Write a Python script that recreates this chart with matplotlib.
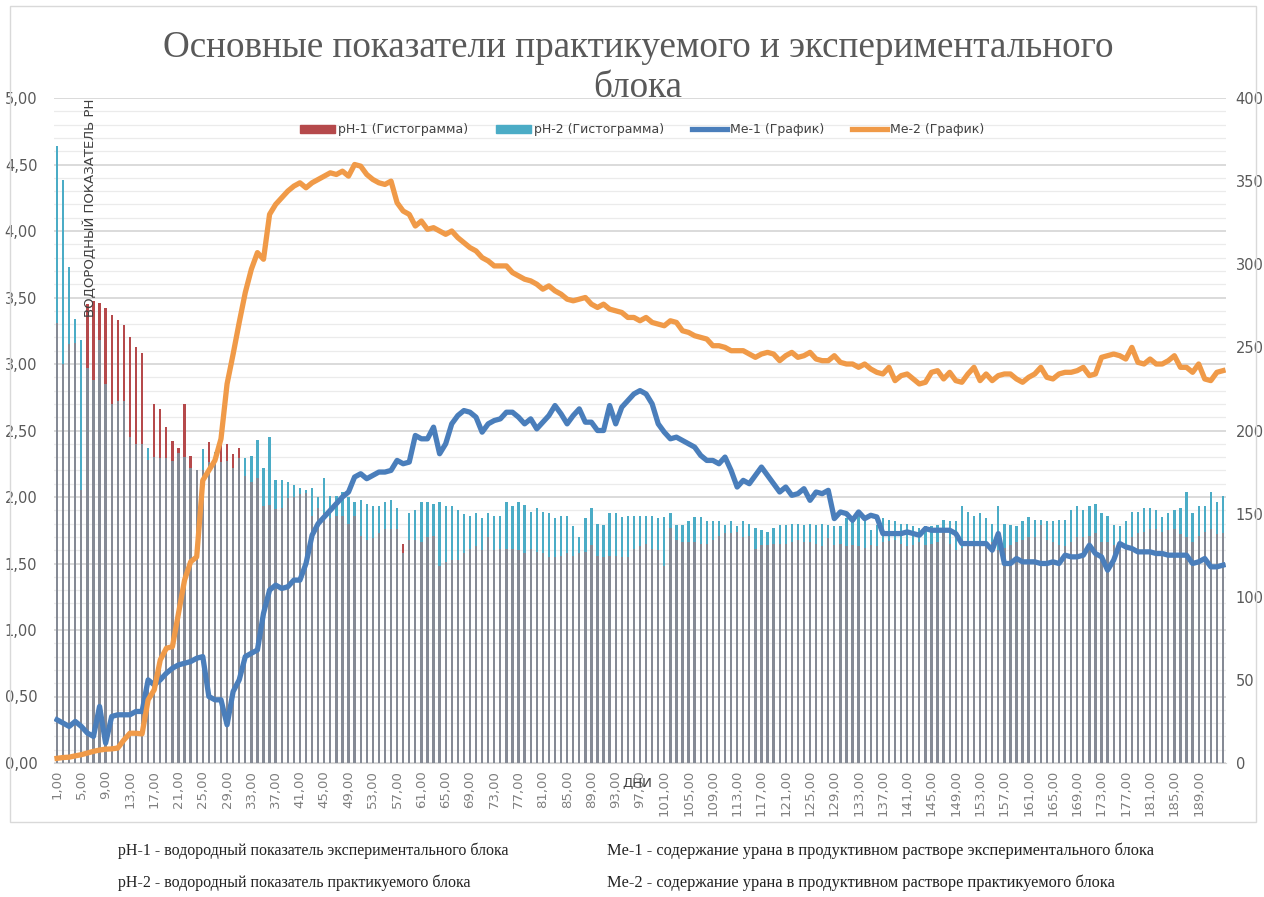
import matplotlib.pyplot as plt
import numpy as np
from matplotlib.ticker import MultipleLocator, FuncFormatter
from matplotlib.patches import Rectangle, Patch
from matplotlib.lines import Line2D

# days 1..193
days = np.arange(1, 194)

# pH-1, experimental block (left axis)
ph1 = [3.31, 3.00, 3.15, 3.16, 2.05, 3.45, 3.47, 3.46, 3.42, 3.37,
       3.33, 3.29, 3.20, 3.13, 3.08, 2.28, 2.70, 2.66, 2.53, 2.42,
       2.37, 2.70, 2.31, 2.20, 2.20, 2.41, 2.30, 2.43, 2.40, 2.32,
       2.37, 2.16, 2.11, 2.14, 1.93, 1.94, 1.91, 1.92, 1.99, 2.00,
       2.02, 2.03, 1.86, 1.92, 1.88, 1.84, 1.86, 1.86, 1.80, 1.86,
       1.71, 1.68, 1.69, 1.73, 1.76, 1.76, 1.76, 1.65, 1.68, 1.68,
       1.66, 1.70, 1.71, 1.48, 1.51, 1.53, 1.53, 1.58, 1.61, 1.63,
       1.60, 1.70, 1.60, 1.61, 1.61, 1.61, 1.60, 1.58, 1.61, 1.59,
       1.58, 1.55, 1.55, 1.56, 1.58, 1.56, 1.58, 1.59, 1.64, 1.56,
       1.55, 1.56, 1.56, 1.55, 1.55, 1.61, 1.63, 1.65, 1.61, 1.60,
       1.48, 1.77, 1.68, 1.66, 1.66, 1.66, 1.65, 1.65, 1.68, 1.71,
       1.73, 1.73, 1.74, 1.70, 1.71, 1.61, 1.64, 1.64, 1.65, 1.65,
       1.65, 1.66, 1.68, 1.66, 1.66, 1.65, 1.63, 1.69, 1.64, 1.65,
       1.63, 1.64, 1.63, 1.62, 1.64, 1.63, 1.66, 1.67, 1.68, 1.65,
       1.63, 1.64, 1.66, 1.64, 1.65, 1.66, 1.75, 1.65, 1.60, 1.62,
       1.64, 1.66, 1.64, 1.63, 1.66, 1.60, 1.62, 1.64, 1.66, 1.68,
       1.70, 1.70, 1.79, 1.68, 1.66, 1.64, 1.63, 1.66, 1.70, 1.70,
       1.71, 1.73, 1.66, 1.66, 1.64, 1.63, 1.62, 1.70, 1.73, 1.74,
       1.76, 1.76, 1.74, 1.75, 1.76, 1.72, 1.70, 1.66, 1.71, 1.74,
       1.76, 1.72, 1.73]

# pH-2, practised block (left axis)
ph2 = [4.64, 4.38, 3.73, 3.34, 3.18, 2.97, 2.88, 3.18, 2.85, 2.70,
       2.72, 2.72, 2.45, 2.40, 2.40, 2.37, 2.30, 2.29, 2.29, 2.27,
       2.33, 2.30, 2.22, 2.20, 2.36, 2.26, 2.34, 2.26, 2.27, 2.22,
       2.29, 2.29, 2.31, 2.43, 2.22, 2.45, 2.13, 2.13, 2.11, 2.09,
       2.07, 2.05, 2.07, 2.00, 2.14, 2.01, 2.01, 2.04, 2.00, 1.96,
       1.98, 1.95, 1.93, 1.93, 1.96, 1.98, 1.92, 1.58, 1.88, 1.90,
       1.96, 1.96, 1.95, 1.96, 1.93, 1.93, 1.90, 1.87, 1.86, 1.88,
       1.84, 1.88, 1.86, 1.86, 1.96, 1.93, 1.96, 1.94, 1.89, 1.92,
       1.89, 1.88, 1.84, 1.86, 1.86, 1.78, 1.70, 1.84, 1.92, 1.80,
       1.79, 1.88, 1.88, 1.85, 1.86, 1.86, 1.86, 1.86, 1.86, 1.84,
       1.85, 1.88, 1.79, 1.79, 1.82, 1.85, 1.85, 1.82, 1.82, 1.82,
       1.79, 1.82, 1.78, 1.82, 1.80, 1.77, 1.75, 1.74, 1.77, 1.79,
       1.79, 1.80, 1.80, 1.79, 1.80, 1.79, 1.80, 1.79, 1.78, 1.78,
       1.84, 1.86, 1.88, 1.83, 1.75, 1.79, 1.84, 1.83, 1.82, 1.80,
       1.80, 1.78, 1.77, 1.78, 1.78, 1.79, 1.83, 1.82, 1.82, 1.93,
       1.89, 1.86, 1.88, 1.84, 1.80, 1.93, 1.80, 1.79, 1.78, 1.82,
       1.85, 1.83, 1.83, 1.82, 1.82, 1.83, 1.83, 1.90, 1.93, 1.90,
       1.93, 1.95, 1.88, 1.86, 1.79, 1.78, 1.82, 1.89, 1.89, 1.92,
       1.92, 1.90, 1.85, 1.88, 1.90, 1.92, 2.04, 1.88, 1.93, 1.93,
       2.04, 1.96, 2.01]

# Me-1, uranium in solution, experimental block (right axis)
me1 = [26, 24, 22, 25, 22, 18, 16, 34, 12, 28,
       29, 29, 29, 31, 31, 50, 47, 50, 54, 57,
       59, 60, 61, 63, 64, 40, 38, 38, 23, 43,
       50, 64, 66, 68, 90, 104, 107, 105, 106, 110,
       110, 120, 137, 144, 148, 152, 156, 160, 163, 172,
       174, 171, 173, 175, 175, 176, 182, 180, 181, 197,
       195, 195, 202, 186, 192, 204, 209, 212, 211, 208,
       199, 204, 206, 207, 211, 211, 208, 204, 207, 201,
       205, 209, 215, 210, 204, 209, 213, 205, 205, 200,
       200, 215, 204, 214, 218, 222, 224, 222, 216, 204,
       199, 195, 196, 194, 192, 190, 185, 182, 182, 180,
       184, 176, 166, 170, 168, 173, 178, 173, 168, 163,
       166, 161, 162, 165, 158, 163, 162, 164, 147, 151,
       150, 146, 151, 147, 149, 148, 138, 138, 138, 138,
       139, 138, 137, 141, 140, 140, 140, 140, 138, 132,
       132, 132, 132, 132, 128, 138, 120, 120, 123, 121,
       121, 121, 120, 120, 121, 120, 125, 124, 124, 125,
       131, 126, 124, 116, 122, 132, 130, 129, 127, 127,
       127, 126, 126, 125, 125, 125, 125, 120, 121, 123,
       118, 118, 119]

# Me-2, uranium in solution, practised block (right axis)
me2 = [2.8, 3.3, 3.5, 4.3, 5, 6, 7, 7.8, 8.3, 8.5,
       9, 13.8, 17.9, 17.9, 17.5, 38, 44, 62, 69, 70,
       90, 110, 121, 124, 170, 176, 182, 195, 228, 246,
       265, 283, 297, 307, 303, 330, 336, 340, 344, 347,
       349, 346, 349, 351, 353, 355, 354, 356, 353, 360,
       359, 354, 351, 349, 348, 350, 337, 332, 330, 323,
       326, 321, 322, 320, 318, 320, 316, 313, 310, 308,
       304, 302, 299, 299, 299, 295, 293, 291, 290, 288,
       285, 287, 284, 282, 279, 278, 279, 280, 276, 274,
       276, 273, 272, 271, 268, 268, 266, 268, 265, 264,
       263, 266, 265, 260, 259, 257, 256, 255, 251, 251,
       250, 248, 248, 248, 246, 244, 246, 247, 246, 242,
       245, 247, 244, 245, 247, 243, 242, 242, 245, 241,
       240, 240, 238, 240, 237, 235, 234, 238, 230, 233,
       234, 231, 228, 229, 235, 236, 231, 235, 230, 229,
       234, 238, 230, 234, 230, 233, 234, 234, 231, 229,
       232, 234, 238, 232, 231, 234, 235, 235, 236, 238,
       233, 234, 244, 245, 246, 245, 243, 250, 241, 240,
       243, 240, 240, 242, 245, 238, 238, 235, 240, 231,
       230, 235, 236]

tick_days = np.arange(1, 190, 4)
legend_labels = ['pH-1 (Гистограмма)', 'pH-2 (Гистограмма)', 'Me-1 (График)', 'Me-2 (График)']
title_lines = ['Основные показатели практикуемого и экспериментального', 'блока']
notes = [('pH-1 - водородный показатель экспериментального блока',
          'Me-1 - содержание урана в продуктивном растворе экспериментального блока'),
         ('pH-2 - водородный показатель практикуемого блока',
          'Me-2 - содержание урана в продуктивном растворе практикуемого блока')]

c_ph1 = '#b5494b'
c_ph2 = '#4bacc6'
c_both = '#858a95'
c_me1 = '#4a7ebb'
c_me2 = '#f09a48'
grey_txt = '#595959'

fig = plt.figure(figsize=(12.64, 8.97), dpi=100)
W, H = 1264, 897
ax = fig.add_axes([54 / W, 1 - 763 / H, (1226 - 54) / W, (763 - 98) / H])
ax2 = ax.twinx()

# bars: where both series overlap the original shows grey
bw = 0.38
ax.bar(days, ph2, width=bw, color=c_ph2, zorder=2, linewidth=0)
ax.bar(days, ph1, width=bw, color=c_ph1, zorder=2, linewidth=0)
ax.bar(days, np.minimum(ph1, ph2), width=bw, color=c_both, zorder=3, linewidth=0)

ax.set_xlim(0.5, 193.5)
ax.set_ylim(0, 5)
ax.yaxis.set_major_locator(MultipleLocator(0.5))
ax.yaxis.set_minor_locator(MultipleLocator(0.1))
ax.yaxis.set_major_formatter(FuncFormatter(lambda v, p: f'{v:.2f}'.replace('.', ',')))
ax.grid(which='major', axis='y', color='#d4d4d4', lw=1.2, zorder=0)
ax.grid(which='minor', axis='y', color='#ebebeb', lw=0.9, zorder=0)
ax.set_axisbelow(True)
ax.tick_params(axis='y', which='both', length=0, labelsize=10.5, labelcolor=grey_txt, pad=12)
ax.set_xticks(tick_days)
ax.set_xticklabels([f'{d},00' for d in tick_days], rotation=90)
ax.tick_params(axis='x', length=0, labelsize=9.5, labelcolor='#7f7f7f', pad=5)
for s in ['top', 'left', 'right']:
    ax.spines[s].set_visible(False)
ax.spines['bottom'].set_color('#d4d4d4')

ax2.plot(days, me1, color=c_me1, lw=3.8, solid_joinstyle='round', zorder=5)
ax2.plot(days, me2, color=c_me2, lw=3.8, solid_joinstyle='round', zorder=5)
ax2.set_ylim(0, 400)
ax2.yaxis.set_major_locator(MultipleLocator(50))
ax2.tick_params(axis='y', length=0, labelsize=10.5, labelcolor=grey_txt, pad=7)
for s in ax2.spines.values():
    s.set_visible(False)

handles = [Patch(color=c_ph1), Patch(color=c_ph2),
           Line2D([], [], color=c_me1, lw=3.8), Line2D([], [], color=c_me2, lw=3.8)]
fig.legend(handles, legend_labels, loc='center', bbox_to_anchor=(642 / W, 1 - 130 / H),
           ncol=4, frameon=False, fontsize=9, handlelength=2.8, handleheight=0.6,
           columnspacing=2.2, handletextpad=0.25, labelcolor='#404040')

fig.text(638 / W, 1 - 48 / H, title_lines[0], ha='center', va='center',
         fontsize=26.7, family='Liberation Serif', color=grey_txt)
fig.text(638 / W, 1 - 88 / H, title_lines[1], ha='center', va='center',
         fontsize=26.7, family='Liberation Serif', color=grey_txt)

fig.text(90 / W, 1 - 99 / H, 'ВОДОРОДНЫЙ ПОКАЗАТЕЛЬ PH', rotation=90, ha='center', va='top',
         fontsize=9.5, color='#404040')
fig.text(637 / W, 1 - 783 / H, 'ДНИ', ha='center', va='center', fontsize=9.5, color='#404040')

fig.patches.append(Rectangle((10 / W, 1 - 822 / H), (1256 - 10) / W, (822 - 6) / H,
                             transform=fig.transFigure, fill=False, ec='#d9d9d9', lw=1))

for row, y in zip(notes, [851, 883]):
    fig.text(118 / W, 1 - y / H, row[0], ha='left', va='center', fontsize=11.5,
             family='Liberation Serif', color='#222222')
    fig.text(607 / W, 1 - y / H, row[1], ha='left', va='center', fontsize=11.8,
             family='Liberation Serif', color='#222222')

fig.savefig('out.png', dpi=100)
